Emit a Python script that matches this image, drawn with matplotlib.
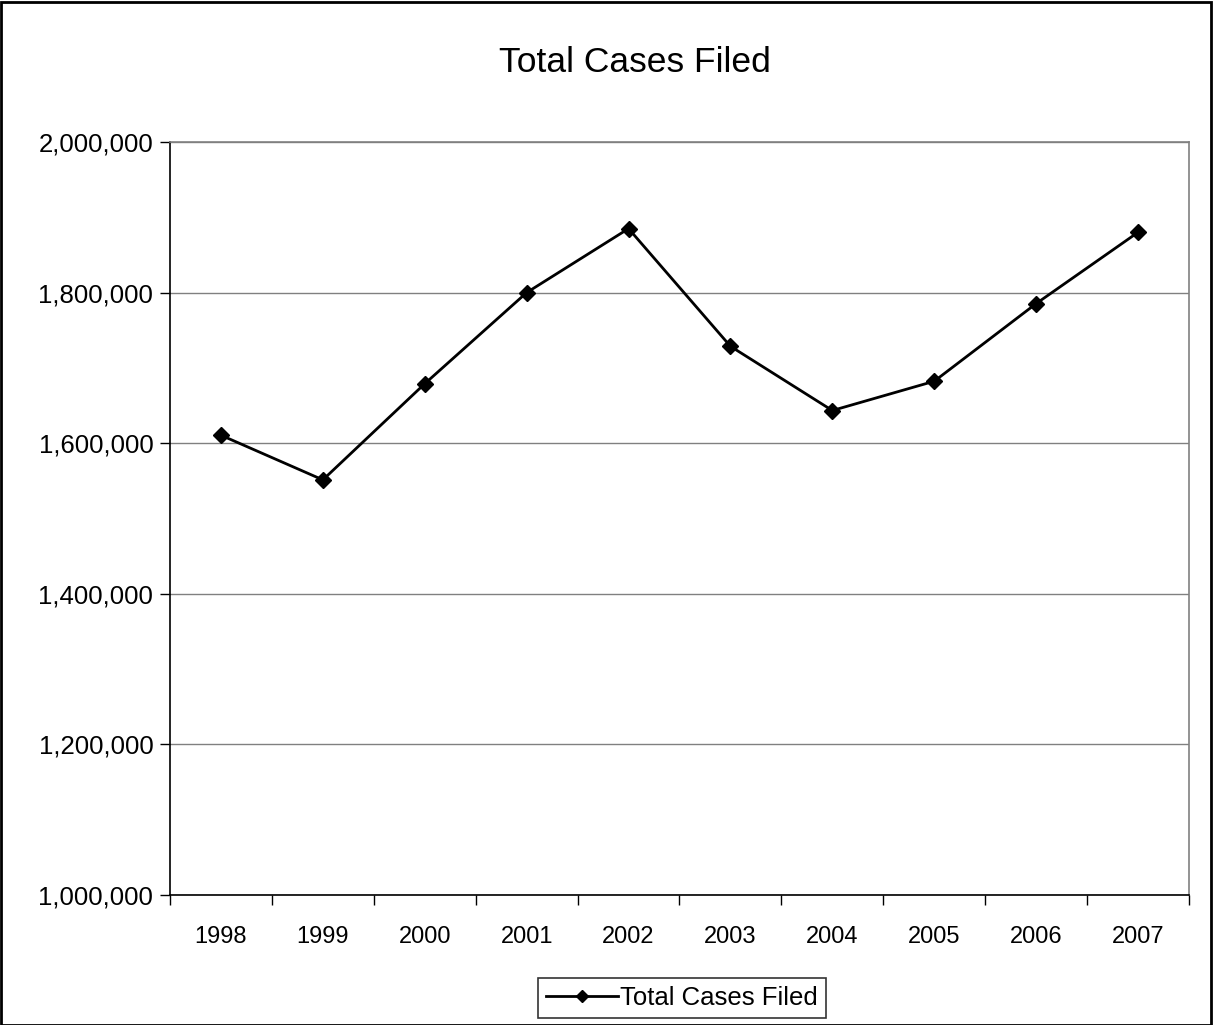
import matplotlib
matplotlib.use("Agg")
import matplotlib.pyplot as plt
from matplotlib.ticker import FuncFormatter, FixedLocator, NullFormatter
from matplotlib.patches import Rectangle

plt.rcParams['font.family'] = ['Liberation Sans', 'DejaVu Sans']

years = ['1998', '1999', '2000', '2001', '2002', '2003', '2004', '2005', '2006', '2007']
cases = [1610600, 1551300, 1679000, 1800000, 1885000, 1728700, 1643400, 1682300, 1785400, 1880100]
series_name = 'Total Cases Filed'
title = 'Total Cases Filed'

W, H = 1213, 1025
fig = plt.figure(figsize=(W/100, H/100), dpi=100)
ax = fig.add_axes([170/W, 1 - 895/H, (1189-170)/W, (895-142)/H])

x = list(range(len(years)))
ax.plot(x, cases, color='black', linewidth=2, marker='D', markersize=8,
        markerfacecolor='black', markeredgecolor='black', label=series_name, zorder=3)

ax.set_xlim(-0.5, len(years) - 0.5)
ax.set_ylim(1000000, 2000000)
ax.set_yticks([1000000, 1200000, 1400000, 1600000, 1800000, 2000000])
ax.yaxis.set_major_formatter(FuncFormatter(lambda v, p: f"{int(v):,}"))
ax.set_xticks(x)
ax.set_xticklabels(years)
ax.xaxis.set_minor_locator(FixedLocator([i - 0.5 for i in range(len(years) + 1)]))
ax.xaxis.set_minor_formatter(NullFormatter())
ax.tick_params(axis='x', which='major', length=0, pad=22, labelsize=17)
ax.tick_params(axis='x', which='minor', length=7, width=1, color='black', direction='out')
ax.tick_params(axis='y', which='major', length=7, width=1, color='black', direction='out', labelsize=18.5, pad=5)

ax.grid(axis='y', color='#808080', linewidth=1)
ax.set_axisbelow(True)
for s in ['top', 'right']:
    ax.spines[s].set_color('#808080')
    ax.spines[s].set_linewidth(1.2)
for s in ['left', 'bottom']:
    ax.spines[s].set_color('#000000')
    ax.spines[s].set_linewidth(1.2)

fig.text(635/W, 1 - 62/H, title, ha='center', va='center', fontsize=25.5)

leg = fig.legend(loc='center', bbox_to_anchor=(682/W, 1 - 998/H), frameon=True,
                 fancybox=False, edgecolor='black', fontsize=18.5, handlelength=2.8,
                 handletextpad=0.1, borderpad=0.3, markerscale=0.75)
leg.get_frame().set_linewidth(1.2)

fig.patches.append(Rectangle((1/W, 0), (W-3)/W, 1 - 2/H, transform=fig.transFigure,
                             fill=False, edgecolor='black', linewidth=2))

fig.savefig('out.png', dpi=100)
